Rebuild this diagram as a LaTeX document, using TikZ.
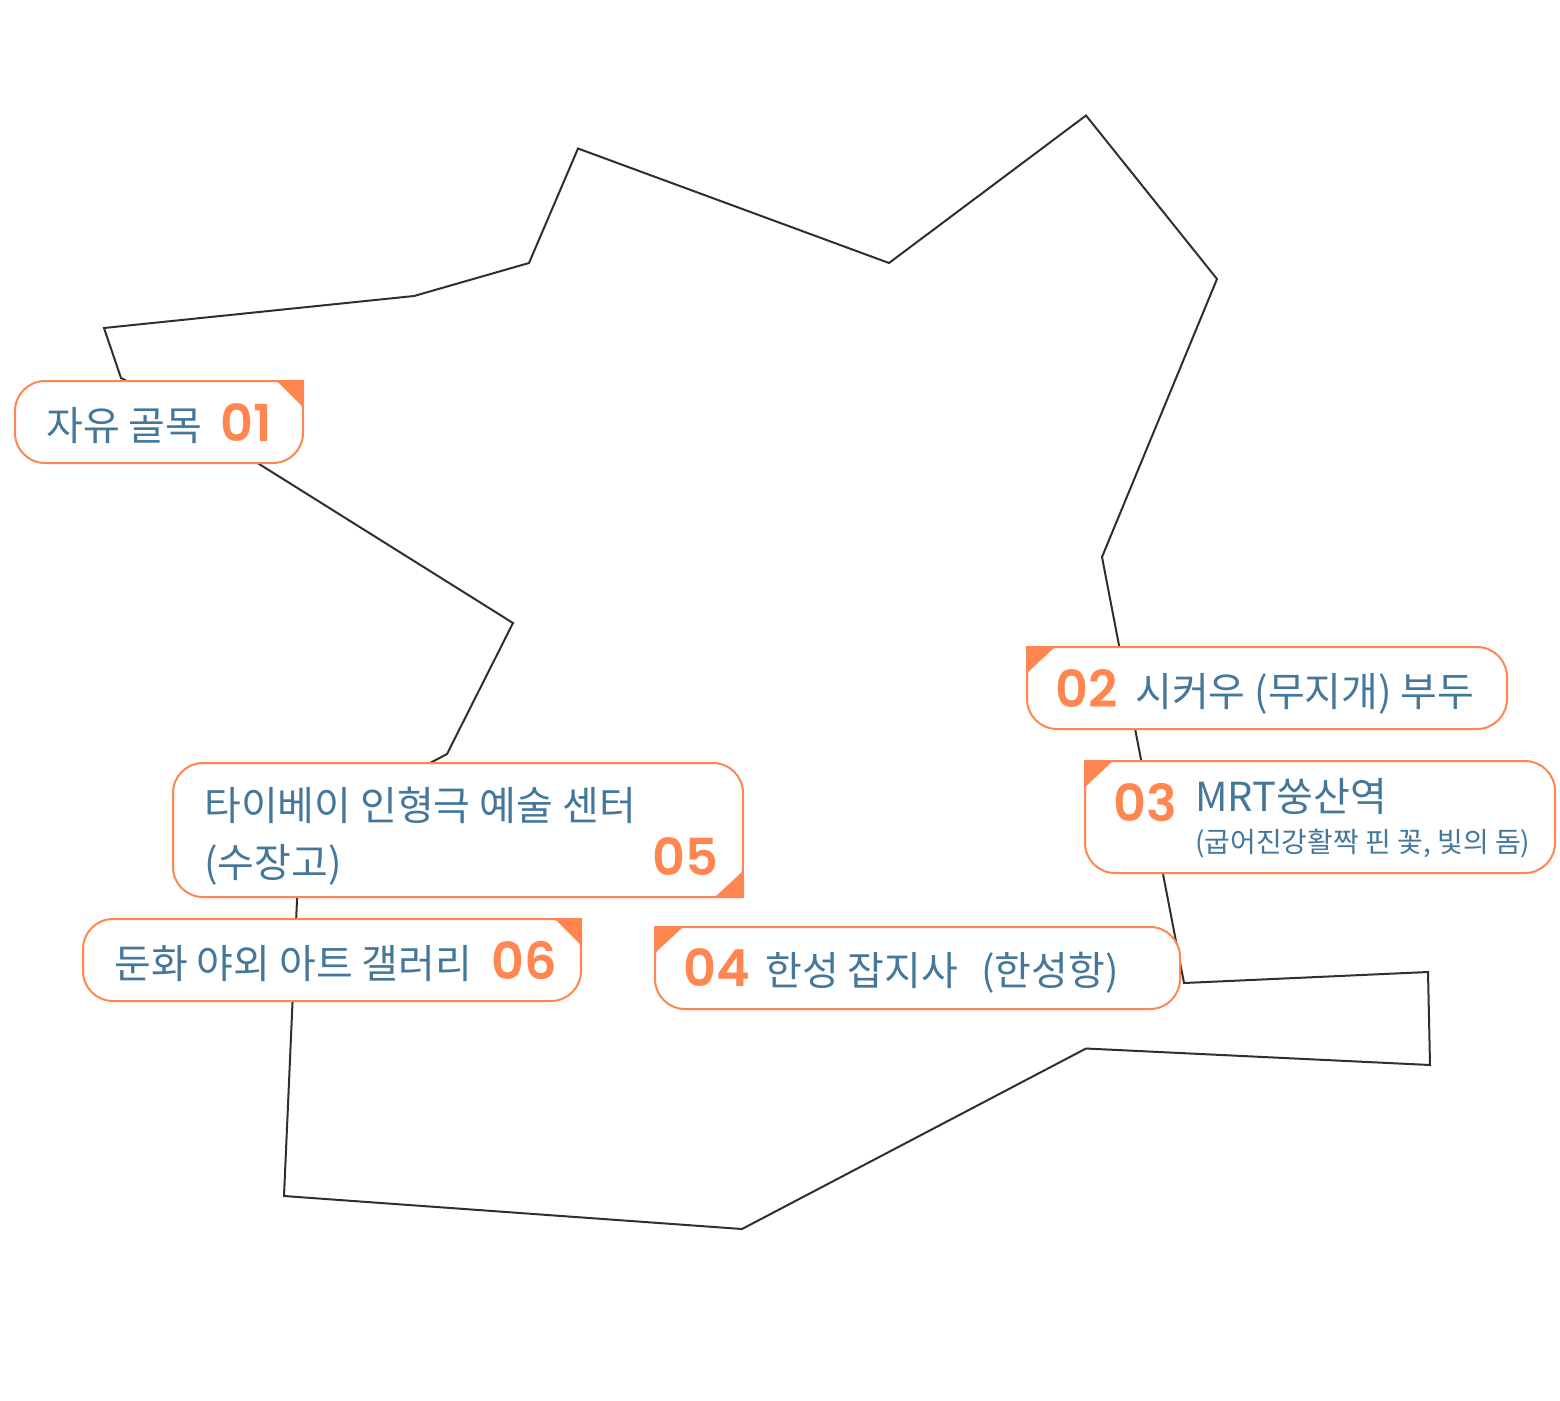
\documentclass[tikz,border=0pt]{standalone}
\usepackage{fontspec}
\setmainfont{Noto Sans CJK KR}
\newfontfamily\numfont{Poppins SemiBold}
\definecolor{cardorange}{HTML}{FF8650}
\definecolor{cardblue}{HTML}{44779A}
\definecolor{mapline}{HTML}{2F2F2F}
\tikzset{
  cardbox/.style={rectangle,draw=cardorange,fill=white,line width=2pt,rounded corners=30pt,inner sep=0pt,outer sep=0pt},
  cardtext/.style={anchor=base west,inner sep=0pt,text=cardblue,font=\fontsize{40}{57}\selectfont},
  cardnum/.style={anchor=base west,inner sep=0pt,text=cardorange,font=\fontsize{51}{55}\selectfont\numfont},
  cardflag/.style={fill=cardorange}
}
\begin{document}
\begin{tikzpicture}[x=1pt,y=-1pt]

          \useasboundingbox (0,0) rectangle (1560,1400);

          \draw[mapline,line width=2pt,line join=miter]
            (578,148.5) -- (889,263) -- (1086,115.5) -- (1217,279) -- (1102,557)
            -- (1184,983) -- (1428,972) -- (1430,1065) -- (1086,1048.5) -- (742,1229)
            -- (284,1196) -- (300,832) -- (447,754) -- (513,623) -- (125,380)
            -- (121,378) -- (104,328) -- (414,296) -- (529,263) -- cycle;

          \begin{scope}[every node/.style={cardbox}]
            \node[minimum width=288pt,minimum height=82pt] (card1) at (159,422) {};
            \node[minimum width=480pt,minimum height=82pt] (card2) at (1267,688) {};
            \node[minimum width=470pt,minimum height=112pt] (card3) at (1320,817) {};
            \node[minimum width=525pt,minimum height=82pt] (card4) at (917.5,968) {};
            \node[minimum width=570pt,minimum height=134pt] (card5) at (458,830) {};
            \node[minimum width=498pt,minimum height=82pt] (card6) at (332,960) {};
          \end{scope}

          \fill[cardflag] ([shift={(1pt,1pt)}]card1.north east) -- ++(-28,0) -- ++(28,28) -- cycle;
          \fill[cardflag] ([shift={(-1pt,1pt)}]card2.north west) -- ++(30,0) -- ++(-30,28) -- cycle;
          \fill[cardflag] ([shift={(-1pt,1pt)}]card3.north west) -- ++(30,0) -- ++(-30,28) -- cycle;
          \fill[cardflag] ([shift={(-1pt,1pt)}]card4.north west) -- ++(30,0) -- ++(-30,28) -- cycle;
          \fill[cardflag] ([shift={(1pt,-1pt)}]card5.south east) -- ++(-30,0) -- ++(30,-28) -- cycle;
          \fill[cardflag] ([shift={(1pt,1pt)}]card6.north east) -- ++(-28,0) -- ++(28,28) -- cycle;

          \node[cardtext] (name1) at (46,440) {자유 골목};
          \node[cardnum] (num1) at (220,441) {01};

          \node[cardnum] (num2) at (1055,707) {02};
          \node[cardtext] (name2) at (1135,706) {시커우 (무지개) 부두};

          \node[cardnum] (num3) at (1113,821) {03};
          \node[cardtext] (name3) at (1195,811) {MRT쑹산역};
          \node[cardtext,font=\fontsize{28}{30}\selectfont] (sub3) at (1195,852) {(굽어진강활짝 핀 꽃, 빛의 돔)};

          \node[cardnum] (num4) at (683,986) {04};
          \node[cardtext] (name4) at (765,985) {한성 잡지사~~\hspace{5pt}(한성항)};

          \node[cardtext,align=left] (name5) at (204,877) {타이베이 인형극 예술 센터\\(수장고)};
          \node[cardnum] (num5) at (652,875) {05};

          \node[cardtext] (name6) at (114,978) {둔화 야외 아트 갤러리};
          \node[cardnum] (num6) at (491,979) {06};

        \end{tikzpicture}
\end{document}
